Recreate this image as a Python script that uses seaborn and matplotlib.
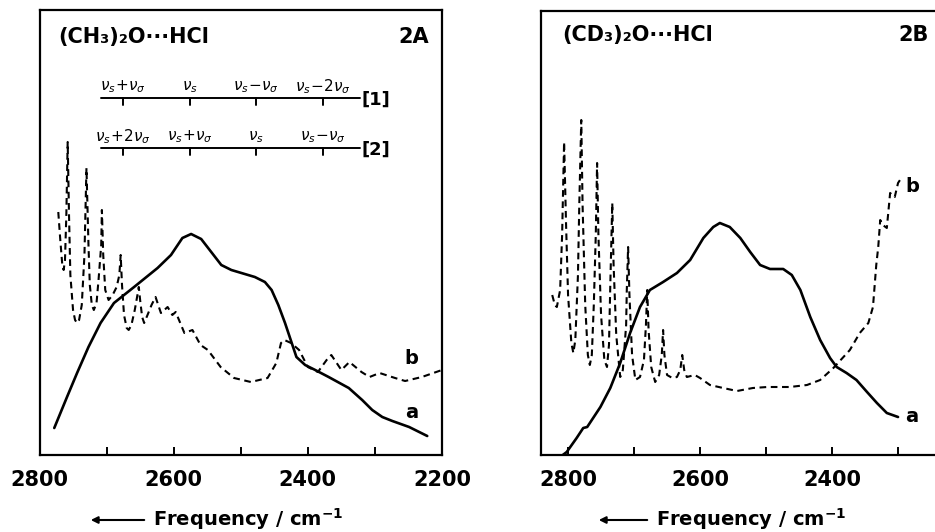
import matplotlib
matplotlib.use("Agg")
import matplotlib.pyplot as plt
import seaborn as sns
import pandas as pd

# ---------------- data (frequency in cm-1, absorbance in arbitrary units) -------------
left_a_x = [2778, 2759, 2744, 2727, 2709, 2689, 2659, 2624, 2604, 2587, 2574, 2559, 2544,
            2529, 2514, 2499, 2479, 2464, 2454, 2444, 2434, 2424, 2417, 2404, 2389, 2369,
            2339, 2319, 2304, 2289, 2274, 2249, 2222]
left_a_y = [27, 58, 82, 108, 132, 152, 168, 187, 200, 217, 221, 216, 203,
            190, 185, 182, 178, 173, 165, 150, 132, 112, 98, 90, 85, 78,
            67, 55, 45, 38, 34, 28, 19]

left_b_x = [2772, 2769, 2766, 2764, 2762, 2760, 2758, 2756, 2754, 2750, 2747, 2744, 2741,
            2737, 2733, 2730, 2727, 2725, 2722, 2719, 2715, 2712, 2708, 2707, 2705, 2702,
            2697, 2691, 2685, 2681, 2679, 2677, 2674, 2670, 2667, 2663, 2658, 2654, 2652,
            2650, 2647, 2644, 2639, 2633, 2627, 2619, 2609, 2602, 2597, 2584, 2572, 2560,
            2549, 2530, 2510, 2485, 2460, 2447, 2440, 2435, 2425, 2413, 2400, 2385, 2372,
            2365, 2350, 2338, 2320, 2308, 2293, 2270, 2255, 2230, 2200]
left_b_y = [243, 215, 190, 185, 195, 240, 313, 240, 180, 145, 135, 132, 135,
            150, 200, 287, 210, 170, 150, 145, 152, 175, 210, 245, 200, 165,
            155, 160, 168, 180, 200, 170, 140, 127, 125, 130, 145, 160, 168,
            155, 138, 132, 140, 150, 158, 142, 148, 140, 143, 122, 125, 110,
            105, 88, 77, 73, 77, 92, 112, 115, 112, 105, 88, 83, 95,
            100, 85, 93, 83, 78, 82, 77, 74, 78, 85]

right_a_x = [2808, 2802, 2787, 2777, 2771, 2751, 2736, 2721, 2706, 2691, 2676, 2656, 2635,
             2615, 2595, 2580, 2570, 2555, 2539, 2524, 2509, 2494, 2474, 2461, 2448, 2433,
             2418, 2403, 2393, 2378, 2363, 2347, 2332, 2317, 2300]
right_a_y = [0, 3, 17, 27, 28, 48, 67, 92, 122, 148, 165, 173, 182,
             195, 217, 228, 232, 228, 217, 203, 190, 186, 186, 180, 165, 138,
             115, 97, 88, 82, 75, 63, 52, 42, 38]

right_b_x = [2824, 2820, 2817, 2812, 2809, 2806, 2803, 2800, 2795, 2792, 2789, 2785, 2783,
             2780, 2778, 2774, 2770, 2767, 2764, 2761, 2758, 2756, 2754, 2750, 2745, 2741,
             2738, 2736, 2733, 2731, 2727, 2721, 2717, 2712, 2711, 2709, 2707, 2703, 2698,
             2691, 2685, 2682, 2680, 2678, 2674, 2668, 2662, 2658, 2656, 2654, 2650, 2642,
             2635, 2630, 2627, 2624, 2620, 2608, 2600, 2585, 2565, 2544, 2520, 2498, 2464,
             2438, 2418, 2398, 2373, 2358, 2345, 2338, 2333, 2330, 2327, 2323, 2317, 2312,
             2305, 2300, 2294]
right_b_y = [160, 150, 148, 165, 220, 313, 230, 160, 112, 102, 115, 180, 250,
             335, 250, 150, 100, 90, 100, 150, 220, 292, 220, 140, 95, 88,
             110, 170, 252, 190, 120, 78, 85, 130, 165, 208, 160, 100, 75,
             78, 95, 130, 165, 125, 88, 73, 80, 100, 125, 100, 80, 77,
             78, 85, 100, 85, 78, 80, 77, 70, 67, 64, 67, 68, 68,
             70, 75, 87, 105, 122, 132, 148, 190, 208, 235, 230, 227, 262,
             258, 272, 278]

# progression markers (cm-1) and their labels
prog_pos = [2676, 2576, 2477, 2378]
prog1_labels = [r"$\nu_s\!+\!\nu_\sigma$", r"$\nu_s$", r"$\nu_s\!-\!\nu_\sigma$", r"$\nu_s\!-\!2\nu_\sigma$"]
prog2_labels = [r"$\nu_s\!+\!2\nu_\sigma$", r"$\nu_s\!+\!\nu_\sigma$", r"$\nu_s$", r"$\nu_s\!-\!\nu_\sigma$"]

left_ticks = [2800, 2700, 2600, 2500, 2400, 2300, 2200]
left_labels = ["2800", "", "2600", "", "2400", "", "2200"]
right_ticks = [2800, 2700, 2600, 2500, 2400, 2300]
right_labels = ["2800", "", "2600", "", "2400", ""]

# ---------------- figure ----------------
sns.set_style("white", {"text.color": "black", "xtick.color": "black",
                        "ytick.color": "black", "axes.labelcolor": "black",
                        "axes.edgecolor": "black"})
plt.rcParams["font.family"] = ["DejaVu Sans"]
plt.rcParams["mathtext.fontset"] = "dejavusans"

fig = plt.figure(figsize=(9.35, 5.32), dpi=100)
ax1 = fig.add_axes([39.5 / 935, 77 / 532, 402.5 / 935, 445 / 532])
ax2 = fig.add_axes([541 / 935, 77 / 532, 394 / 935, 444 / 532])

SOLID_LW = 1.9
DASH_LW = 1.5
DASH = (0, (3.2, 2.2))


def draw(ax, ax_x, ay, bx, by):
    da = pd.DataFrame({"freq": ax_x, "abs": ay})
    db = pd.DataFrame({"freq": bx, "abs": by})
    sns.lineplot(data=da, x="freq", y="abs", ax=ax, color="black", lw=SOLID_LW,
                 sort=False, estimator=None)
    sns.lineplot(data=db, x="freq", y="abs", ax=ax, color="black", lw=DASH_LW,
                 sort=False, estimator=None, linestyle=DASH)


draw(ax1, left_a_x, left_a_y, left_b_x, left_b_y)
draw(ax2, right_a_x, right_a_y, right_b_x, right_b_y)

ax1.set_xlim(2800, 2200)
ax1.set_ylim(0, 445)
ax2.set_xlim(2841, 2244)
ax2.set_ylim(0, 444)

for ax, ticks, labels in ((ax1, left_ticks, left_labels), (ax2, right_ticks, right_labels)):
    ax.set_xticks(ticks)
    ax.set_xticklabels(labels, fontsize=15, fontweight="bold", color="black")
    ax.set_yticks([])
    ax.set_xlabel("")
    ax.set_ylabel("")
    ax.tick_params(axis="x", direction="in", length=6, width=1.4, pad=11, bottom=True,
                   color="black", labelcolor="black")
    for sp in ax.spines.values():
        sp.set_linewidth(1.6)
        sp.set_color("black")
ax2.spines["right"].set_visible(False)

# panel titles
ax1.text(0.047, 0.94, "(CH\u2083)\u2082O\u00b7\u00b7\u00b7HCl", transform=ax1.transAxes,
         fontsize=15, fontweight="bold", ha="left", va="center", color="black")
ax1.text(0.93, 0.94, "2A", transform=ax1.transAxes, fontsize=15, fontweight="bold",
         ha="center", va="center", color="black")
ax2.text(0.053, 0.945, "(CD\u2083)\u2082O\u00b7\u00b7\u00b7HCl", transform=ax2.transAxes,
         fontsize=15, fontweight="bold", ha="left", va="center", color="black")
ax2.text(0.945, 0.945, "2B", transform=ax2.transAxes, fontsize=15, fontweight="bold",
         ha="center", va="center", color="black")

# curve labels
for ax, xb, yb, xa, ya in ((ax1, 2245, 97, 2245, 42), (ax2, 2279, 268, 2279, 38)):
    ax.text(xb, yb, "b", fontsize=14, fontweight="bold", ha="center", va="center", color="black")
    ax.text(xa, ya, "a", fontsize=14, fontweight="bold", ha="center", va="center", color="black")

# progression bars
for yline, labels, tag in ((357, prog1_labels, "[1]"), (307, prog2_labels, "[2]")):
    ax1.plot([2709, 2322], [yline, yline], color="black", lw=1.4)
    for p, lab in zip(prog_pos, labels):
        ax1.plot([p, p], [yline, yline - 7], color="black", lw=1.4)
        ax1.text(p, yline + 11, lab, fontsize=11, ha="center", va="center", color="black")
    ax1.text(2298, yline - 2, tag, fontsize=13, fontweight="bold", ha="center", va="center",
             color="black")

# x-axis captions with arrows
for x_head, x_tail, x_text in ((88, 147, 153), (596, 650, 656)):
    fig.add_artist(matplotlib.patches.FancyArrowPatch(
        (x_tail, 12), (x_head, 12), transform=None, arrowstyle="-|>",
        mutation_scale=10, lw=1.5, color="black"))
    fig.text(x_text / 935, 13 / 532, "Frequency / cm$^{\\mathbf{-1}}$", fontsize=14,
             fontweight="bold", ha="left", va="center", color="black")

fig.savefig("out.png", dpi=100)
